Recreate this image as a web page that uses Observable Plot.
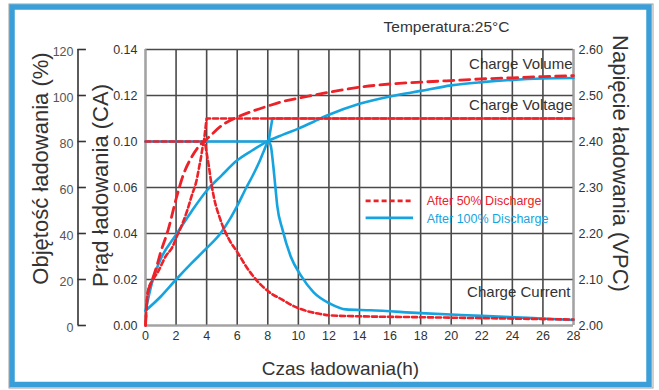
<!DOCTYPE html>
<html><head><meta charset="utf-8">
<script src="https://cdn.jsdelivr.net/npm/d3@7"></script>
<script src="https://cdn.jsdelivr.net/npm/@observablehq/plot@0.6"></script>
<style>body{margin:0;background:#fff} svg{display:block}</style>
</head><body><div id="chart"></div>
<script>
// ---- axis labels ----
const hourTicks = [0,2,4,6,8,10,12,14,16,18,20,22,24,26,28];
const currentTickValues = [0, 0.02, 0.04, 0.06, 0.10, 0.12, 0.14];
const currentLabels = ["0.00","0.02","0.04","0.06","0.10","0.12","0.14"];
const volumeLabels = ["0","20","40","60","80","100","120"];
const voltageLabels = ["2.00","2.10","2.20","2.30","2.40","2.50","2.60"];

// ---- series (hour, value) ----
// Charge volume (%)
const volume50 = [[0,0],[0.15,14],[0.4,19],[0.7,25],[1,32],[1.5,42],[2,55],[2.5,66],[3,73],[3.5,78],[4,81],[5,87],[6,90.6],[7,93.2],[8,95.4],[9,97.4],[10,98.8],[12,101.4],[14,103.6],[16,105],[18,105.8],[20,106.5],[22,107.2],[24,107.7],[26,108.2],[28,108.6]];
const volume100 = [[0,6.4],[0.44,19],[1,29],[2,39.5],[3,49.5],[4,58.6],[5,65.4],[6,71.8],[7,76.2],[8,80.2],[9,83],[10,85.6],[11,88.6],[12,91.6],[14,96.4],[16,99.6],[18,102],[20,104.4],[22,105.8],[24,106.8],[26,107.4],[28,107.6]];
// Charge voltage (V per cell)
const voltage50 = [[0,2.40],[3.82,2.40],[4.0,2.45],[28,2.45]];
const voltage100 = [[0,2.40],[8.05,2.40],[8.3,2.45],[28,2.45]];
// Charge current (CA)
const current50 = [[0,0],[0.08,0.010],[0.2,0.016],[0.5,0.020],[0.87,0.024],[1.31,0.030],[1.75,0.034],[2.07,0.039],[2.4,0.044],[2.73,0.050],[3.05,0.057],[3.3,0.064],[3.6,0.084],[3.85,0.100],[4.0,0.090],[4.15,0.078],[4.3,0.064],[4.5,0.055],[4.9,0.046],[5.5,0.037],[6,0.032],[6.65,0.025],[7.1,0.021],[8.2,0.014],[8.85,0.0116],[9.7,0.0084],[10.5,0.0064],[11.45,0.005],[12.1,0.0044],[14,0.004],[18,0.0036],[22,0.0032],[28,0.0026]];
const current100 = [[0,0.0064],[1,0.0126],[2,0.020],[3,0.027],[4,0.0336],[4.9,0.040],[5.5,0.046],[6,0.052],[6.6,0.060],[7,0.070],[7.5,0.084],[7.75,0.092],[8.05,0.100],[8.2,0.096],[8.35,0.080],[8.5,0.060],[8.62,0.052],[8.95,0.042],[9.5,0.030],[10.14,0.022],[11,0.0144],[12.1,0.0094],[13.1,0.007],[14.7,0.0066],[18,0.0054],[22,0.0042],[28,0.0024]];

// ---- map each axis onto the shared grid (0..6) ----
const idx = [0,1,2,3,4,5,6];
const volToG = v => v / 20;
const voltToG = v => (v - 2) / 0.1;
const curToG = d3.scaleLinear().domain(currentTickValues).range(idx);
const conv = (arr, f) => arr.map(([h, v]) => ({h, g: f(v)}));

const RED = "#ed2128", BLUE = "#16a4e0", GRID = "#4a4a4a", EDGE = "#a3a3a3", TXT = "#333";
const font = "Liberation Sans, Arial, sans-serif";

const chart = Plot.plot({
  width: 659, height: 390,
  marginLeft: 145, marginRight: 86, marginTop: 49, marginBottom: 65,
  style: {fontFamily: font, background: "#fff"},
  x: {domain: [0, 28]},
  y: {domain: [0, 6]},
  marks: [
    // grid
    Plot.ruleX(hourTicks, {stroke: GRID, strokeWidth: 1.6}),
    Plot.ruleY(idx, {stroke: GRID, strokeWidth: 1.6}),
    // lighter frame edges
    Plot.ruleX([0, 28], {stroke: EDGE, strokeWidth: 2}),
    Plot.ruleY([0], {stroke: EDGE, strokeWidth: 2}),
    // axis labels
    Plot.axisX({ticks: hourTicks, tickSize: 0, tickPadding: 6, fontSize: 12.5, fill: TXT, label: null}),
    Plot.axisY({anchor: "left", ticks: idx, tickFormat: i => currentLabels[i], tickSize: 0, tickPadding: 8, fontSize: 12.5, fill: TXT, label: null}),
    Plot.axisY({anchor: "right", ticks: idx, tickFormat: i => voltageLabels[i], tickSize: 0, tickPadding: 5, fontSize: 12.5, fill: TXT, label: null}),
    // outer volume axis
    Plot.ruleX([0], {y1: 0, y2: 6, dx: -67.5, stroke: "#333", strokeWidth: 1.6}),
    Plot.ruleY(idx, {x1: 0, x2: 0.55, dx: -67.5, stroke: "#333", strokeWidth: 1.6}),
    Plot.text(idx, {y: d => d, text: i => volumeLabels[i], frameAnchor: "left", textAnchor: "end", dx: -72, dy: 2, fontSize: 12.5, fill: "#555"}),
    // axis titles
    Plot.text(["Objętość ładowania (%)"], {frameAnchor: "left", textAnchor: "middle", lineAnchor: "middle", rotate: -90, dx: -105, dy: -19, fontSize: 22, fill: TXT}),
    Plot.text(["Prąd ładowania (CA)"], {frameAnchor: "left", textAnchor: "middle", lineAnchor: "middle", rotate: -90, dx: -45, dy: -2, fontSize: 22, fill: TXT}),
    Plot.text(["Napięcie ładowania (VPC)"], {frameAnchor: "right", textAnchor: "middle", lineAnchor: "middle", rotate: 90, dx: 47, dy: -24, fontSize: 22, fill: TXT}),
    Plot.text(["Czas ładowania(h)"], {frameAnchor: "bottom", textAnchor: "middle", lineAnchor: "middle", dx: -19, dy: 43, fontSize: 19, fill: TXT}),
    Plot.text(["Temperatura:25°C"], {frameAnchor: "top", textAnchor: "middle", lineAnchor: "middle", dx: 87, dy: -22, fontSize: 15.5, fill: TXT}),
    // curves: blue first
    Plot.line(conv(voltage100, voltToG), {x: "h", y: "g", stroke: BLUE, strokeWidth: 2.6}),
    Plot.line(conv(volume100, volToG), {x: "h", y: "g", stroke: BLUE, strokeWidth: 2.6, curve: "monotone-x"}),
    Plot.line(conv(current100, curToG), {x: "h", y: "g", stroke: BLUE, strokeWidth: 2.6, curve: "monotone-x"}),
    Plot.line(conv(voltage50, voltToG), {x: "h", y: "g", stroke: RED, strokeWidth: 2.6, strokeDasharray: "5,3"}),
    Plot.line(conv(volume50, volToG), {x: "h", y: "g", stroke: RED, strokeWidth: 2.8, strokeDasharray: "10,6", curve: "monotone-x"}),
    Plot.line(conv(current50, curToG), {x: "h", y: "g", stroke: RED, strokeWidth: 2.6, strokeDasharray: "5,3", curve: "monotone-x"}),
    // curve annotations
    Plot.text(["Charge Volume"], {x: 28, y: 5.68, dx: -1, textAnchor: "end", fontSize: 15, fill: TXT}),
    Plot.text(["Charge Voltage"], {x: 28, y: 4.78, dx: -1, textAnchor: "end", fontSize: 15, fill: TXT}),
    Plot.text(["Charge Current"], {x: 28, y: 0.72, dx: -3, textAnchor: "end", fontSize: 15, fill: TXT}),
    // legend
    Plot.link([0], {x1: 14.4, x2: 17.4, y1: 2.71, y2: 2.71, stroke: RED, strokeWidth: 2.6, strokeDasharray: "5,3"}),
    Plot.link([0], {x1: 14.4, x2: 17.5, y1: 2.34, y2: 2.34, stroke: BLUE, strokeWidth: 2.6}),
    Plot.text(["After 50% Discharge"], {x: 18.4, y: 2.71, textAnchor: "start", fontSize: 12.5, fill: RED}),
    Plot.text(["After 100% Discharge"], {x: 18.4, y: 2.31, textAnchor: "start", fontSize: 12.5, fill: BLUE}),
    // outer border
    Plot.frame({stroke: "#a0a0a0", strokeWidth: 1, insetLeft: -136.5, insetTop: -45.5, insetRight: -79.5, insetBottom: -62.5}),
    Plot.frame({stroke: "#3a9fd8", strokeWidth: 5.5, insetLeft: -133.5, insetTop: -42.5, insetRight: -75.5, insetBottom: -59})
  ]
});
document.getElementById("chart").appendChild(chart);
</script>
</body></html>
